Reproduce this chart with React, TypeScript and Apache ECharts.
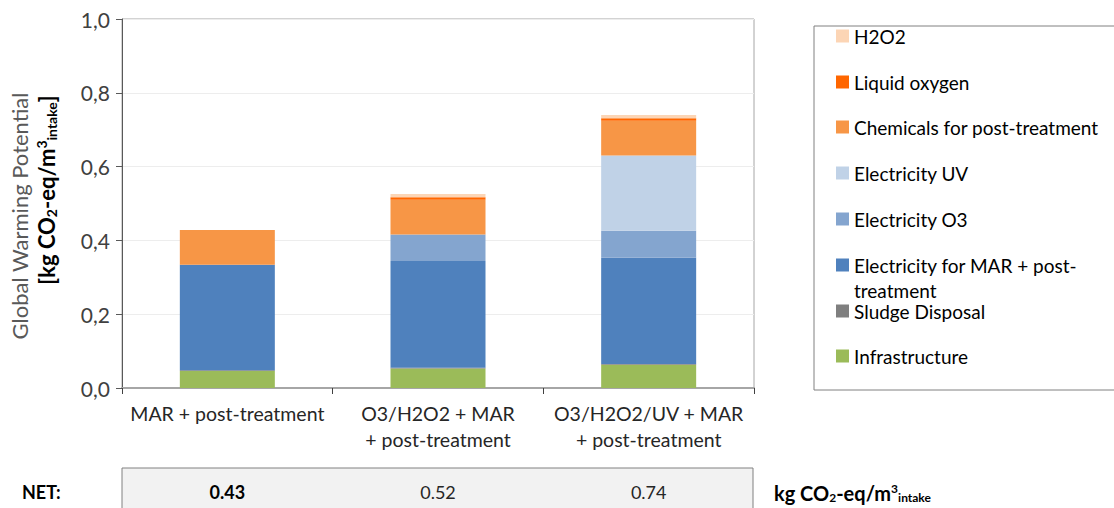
import React, { useEffect, useRef } from "react";
import * as echarts from "echarts";

const categories = ["MAR + post-treatment", "O3/H2O2 + MAR\n+ post-treatment", "O3/H2O2/UV + MAR\n+ post-treatment"];
const infrastructure = [0.046, 0.053, 0.063];
const sludgeDisposal = [0.002, 0.002, 0.002];
const electricityMAR = [0.286, 0.289, 0.288];
const electricityO3 = [0, 0.072, 0.073];
const electricityUV = [0, 0, 0.204];
const chemicals = [0.094, 0.094, 0.094];
const liquidOxygen = [0, 0.007, 0.007];
const h2o2 = [0, 0.009, 0.009];
const netValues = ["0.43", "0.52", "0.74"];
const yTicks = [0, 0.2, 0.4, 0.6, 0.8, 1.0];

const FONT = "Lato";

const seriesDefs = [
  { name: "Infrastructure", data: infrastructure, color: "#9BBB59", legendY: 356 },
  { name: "Sludge Disposal", data: sludgeDisposal, color: "#7F7F7F", legendY: 311 },
  { name: "Electricity for MAR + post-treatment", data: electricityMAR, color: "#4F81BD", legendY: 265 },
  { name: "Electricity O3", data: electricityO3, color: "#84A5CF", legendY: 219 },
  { name: "Electricity UV", data: electricityUV, color: "#C0D2E7", legendY: 173 },
  { name: "Chemicals for post-treatment", data: chemicals, color: "#F79646", legendY: 127 },
  { name: "Liquid oxygen", data: liquidOxygen, color: "#FF6600", legendY: 82 },
  { name: "H2O2", data: h2o2, color: "#FCD5B5", legendY: 36 },
];

const MULTI = "Electricity for MAR + post-treatment";

export default function App() {
  const ref = useRef<HTMLDivElement>(null);
  useEffect(() => {
    if (!ref.current) return;
    const chart = echarts.init(ref.current, null, { renderer: "svg" });

    const legends = seriesDefs.map((s) => {
      const multi = s.name === MULTI;
      return {
        orient: "vertical",
        left: 836,
        top: s.legendY - 11,
        padding: 0,
        data: [s.name],
        itemWidth: 13,
        itemHeight: 13,
        icon: "rect",
        selectedMode: false,
        formatter: multi ? () => "Electricity for MAR + post-" : undefined,
        textStyle: {
          fontFamily: FONT,
          fontSize: 19,
          color: "#000000",
          lineHeight: 22,
        },
      };
    });

    const subRich = (size: number, small: number) => ({
      b: { fontFamily: FONT, fontSize: size, fontWeight: "bold", fill: "#000000", lineHeight: size + 8 },
      s: { fontFamily: FONT, fontSize: small, fontWeight: "bold", fill: "#000000", padding: [Math.round(size * 0.45), 0, 0, 0], lineHeight: size + 8 },
      p: { fontFamily: FONT, fontSize: small, fontWeight: "bold", fill: "#000000", padding: [0, 0, Math.round(size * 0.45), 0], lineHeight: size + 8 },
    });

    const option: any = {
      animation: false,
      backgroundColor: "#ffffff",
      textStyle: { fontFamily: FONT },
      grid: [
        { left: 122, top: 19, width: 632, height: 369, show: true, borderColor: "#A6A6A6", borderWidth: 1, backgroundColor: "transparent" },
        { left: 122, top: 468, width: 632, height: 1, show: false },
      ],
      xAxis: [
        {
          type: "category",
          gridIndex: 0,
          data: categories,
          axisLine: { show: true, lineStyle: { color: "#A6A6A6", width: 2 } },
          axisTick: { show: true, length: 6, lineStyle: { color: "#404040" } },
          axisLabel: { interval: 0, hideOverlap: false, fontFamily: FONT, fontSize: 19.5, color: "#262626", lineHeight: 26, margin: 12 },
          splitLine: { show: false },
        },
        {
          type: "category",
          gridIndex: 1,
          data: netValues,
          axisLine: { show: false },
          axisTick: { show: false },
          axisLabel: {
            interval: 0,
            margin: 14,
            formatter: (v: string, i: number) => (i === 0 ? `{b|${v}}` : `{n|${v}}`),
            rich: {
              b: { fontFamily: FONT, fontSize: 18, fontWeight: "bold", color: "#000000" },
              n: { fontFamily: FONT, fontSize: 18, color: "#262626" },
            },
          },
        },
      ],
      yAxis: [
        {
          type: "value",
          gridIndex: 0,
          min: 0,
          max: 1,
          interval: 0.2,
          axisLine: { show: true, lineStyle: { color: "#595959", width: 1 } },
          axisTick: { show: true, length: 6, lineStyle: { color: "#595959" } },
          axisLabel: {
            fontFamily: FONT,
            fontSize: 21,
            color: "#404040",
            margin: 12,
            formatter: (v: number) => {
              const t = yTicks.find((x) => Math.abs(x - v) < 1e-6);
              return (t !== undefined ? t : v).toFixed(1).replace(".", ",");
            },
          },
          splitLine: { show: true, lineStyle: { color: "#EDEDED", width: 1 } },
        },
        { type: "value", gridIndex: 1, show: false },
      ],
      legend: legends,
      series: seriesDefs.map((s) => ({
        name: s.name,
        type: "bar",
        stack: "total",
        xAxisIndex: 0,
        yAxisIndex: 0,
        barWidth: 95,
        data: s.data,
        itemStyle: { color: s.color },
        emphasis: { disabled: true },
      })),
      graphic: [
        {
          type: "rect",
          shape: { x: 814, y: 26, width: 320, height: 364 },
          style: { fill: "none", stroke: "#808080", lineWidth: 1 },
          silent: true,
        },
        {
          type: "text",
          x: 854,
          y: 290,
          style: {
            text: "treatment",
            fontFamily: FONT,
            fontSize: 19,
            fill: "#000000",
            align: "left",
            verticalAlign: "middle",
          },
        },
        {
          type: "rect",
          shape: { x: 122, y: 468, width: 631, height: 60 },
          style: { fill: "#F2F2F2", stroke: "#808080", lineWidth: 1 },
          silent: true,
          z: -1,
        },
        {
          type: "text",
          x: 19,
          y: 216,
          rotation: Math.PI / 2,
          style: {
            text: "Global Warming Potential",
            fontFamily: FONT,
            fontSize: 22,
            fill: "#595959",
            align: "center",
            verticalAlign: "middle",
          },
        },
        {
          type: "text",
          x: 46,
          y: 190,
          rotation: Math.PI / 2,
          style: {
            text: "{b|[kg CO}{s|2}{b|-eq/m}{p|3}{s|intake}{b|]}",
            align: "center",
            verticalAlign: "middle",
            rich: subRich(22, 14),
          },
        },
        {
          type: "text",
          x: 22,
          y: 492,
          style: {
            text: "NET:",
            fontFamily: FONT,
            fontSize: 18,
            fontWeight: "bold",
            fill: "#000000",
            align: "left",
            verticalAlign: "middle",
          },
        },
        {
          type: "text",
          x: 774,
          y: 493,
          style: {
            text: "{b|kg CO}{s|2}{b|-eq/m}{p|3}{s|intake}",
            align: "left",
            verticalAlign: "middle",
            rich: subRich(20, 12),
          },
        },
      ],
    };
    chart.setOption(option);
    return () => chart.dispose();
  }, []);
  return <div ref={ref} style={{ position: "fixed", left: 0, top: 0, width: 1114, height: 508 }} />;
}
